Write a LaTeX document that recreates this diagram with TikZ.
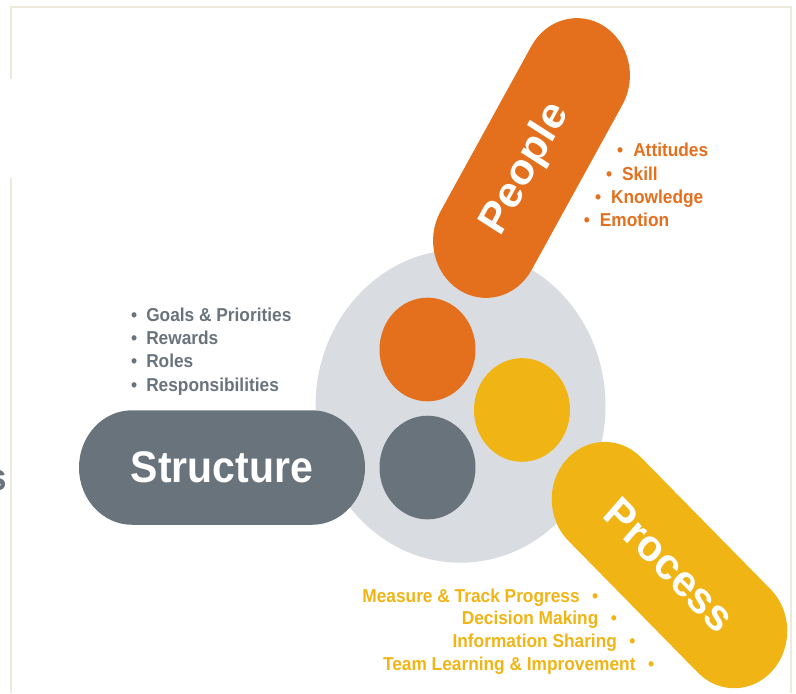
\documentclass[tikz,border=0pt]{standalone}
\usepackage{fontspec}
\setmainfont{Liberation Sans}
\usetikzlibrary{shapes.misc}

\definecolor{pplorange}{HTML}{E46F1C}
\definecolor{procyellow}{HTML}{F0B415}
\definecolor{structgray}{HTML}{69737C}
\definecolor{hubgray}{HTML}{D9DDE1}
\definecolor{framebeige}{HTML}{EDE9DB}

\tikzset{
  pill/.style={rounded rectangle, minimum width=284pt, minimum height=106pt,
    inner sep=0pt, text=white, font=\fontsize{41}{41}\selectfont\bfseries},
  ball/.style={circle, minimum size=96pt, inner sep=0pt},
  itemtxt/.style={inner sep=0pt, font=\fontsize{17.3}{20}\selectfont\bfseries},
}

\begin{document}
\begin{tikzpicture}[x=1pt,y=-1pt,yscale=1.08,every node/.append style={transform shape}]
    \useasboundingbox (0,0) rectangle (796,641.67);
    % frame
    \draw[framebeige,line width=2pt] (11,73) -- (11,6.8) -- (790.5,6.8) -- (790.5,641.67);
    \draw[framebeige,line width=2pt] (11,164.8) -- (11,641.67);

    % hub and its three dots
    \node[circle,fill=hubgray,minimum size=290pt,inner sep=0pt] (hub) at (460.5,376) {};
    \node[ball,fill=pplorange] (peopledot) at (427.5,323.6) {};
    \node[ball,fill=procyellow] (processdot) at (522,379.6) {};
    \node[ball,fill=structgray] (structdot) at (427.5,432.9) {};

    % pills
    \node[pill,fill=structgray,minimum width=286pt] (structure) at (222,432.9) {Structure};
    \node[pill,fill=pplorange,rotate=59.3] (people) at (531.5,146.3) {People\hspace*{24pt}};
    \node[pill,fill=procyellow,rotate=-43.3] (process) at (669.5,523.2) {Process};

    % lists
    \foreach \txt [count=\i from 0] in {Goals \& Priorities, Rewards, Roles, Responsibilities}
        \node[itemtxt,text=structgray,anchor=base west] (struct\i) at (131,297.7+21.5*\i) {•\hspace{9pt}\txt};
    \foreach \txt [count=\i from 0] in {Attitudes, Skill, Knowledge, Emotion}
        \node[itemtxt,text=pplorange,anchor=base west] (ppl\i) at (617-11.1*\i,145.1+21.6*\i) {•\hspace{10pt}\txt};
    \foreach \txt [count=\i from 0] in {Measure \& Track Progress, Decision Making, Information Sharing, Team Learning \& Improvement}
        \node[itemtxt,text=procyellow,anchor=base east] (proc\i) at (598.5+18.6*\i,557.7+20.9*\i) {\txt\hspace{12.5pt}•};

    % cut-off heading letter at the left edge
    \node[inner sep=0pt,anchor=base east,text=structgray,font=\fontsize{35}{35}\selectfont\bfseries] (cutoff) at (7.5,453.7) {s};
\end{tikzpicture}
\end{document}
